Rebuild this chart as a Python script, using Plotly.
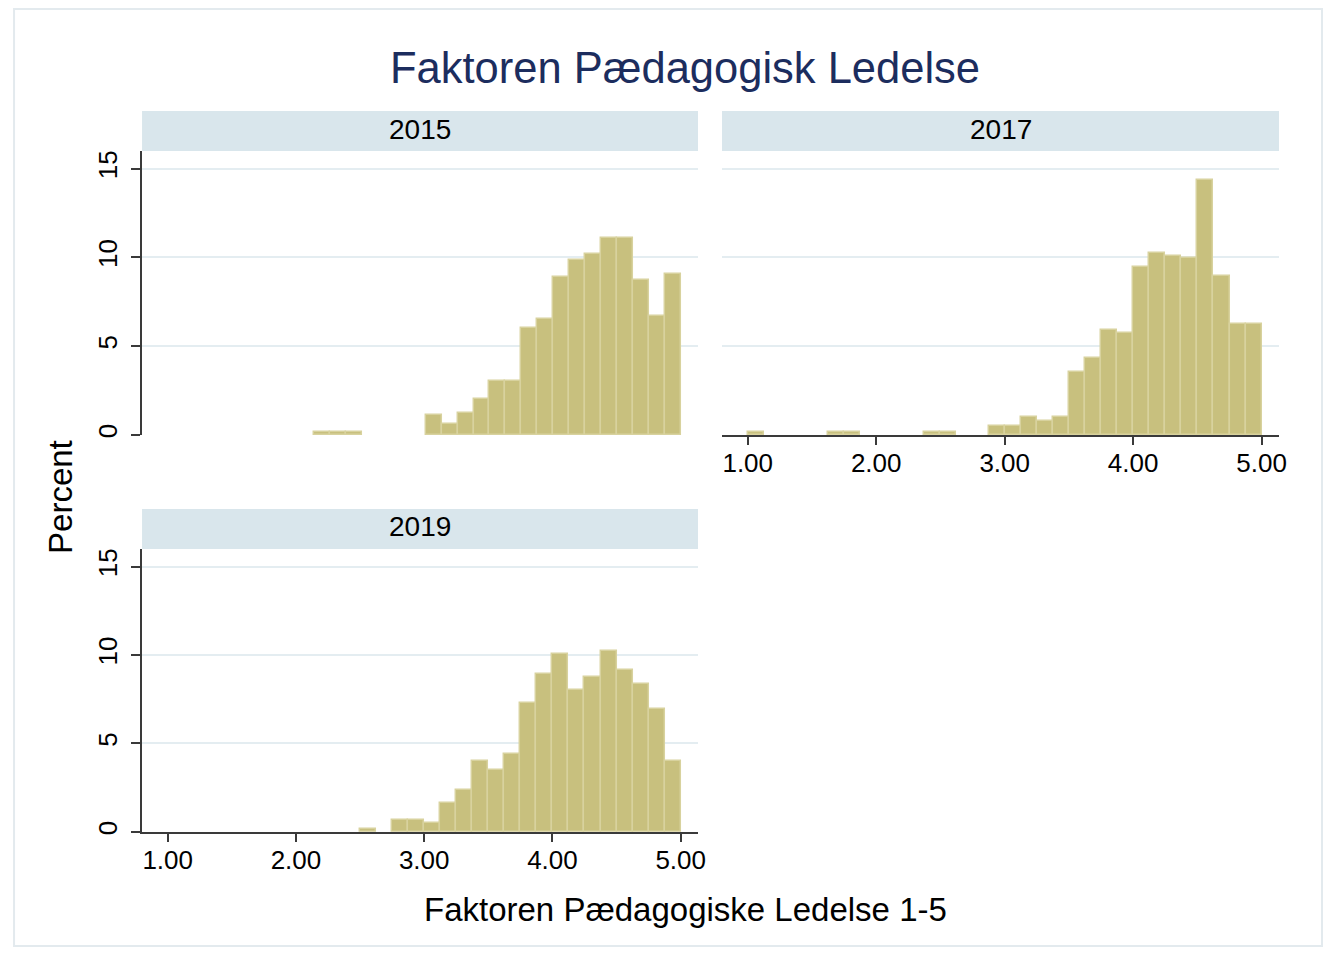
import plotly.graph_objects as go

# ---------------- data ----------------
YEARS = ["2015", "2017", "2019"]
BIN_START = [2.1429, 1.0, 1.0]
BIN_WIDTH = [0.1242, 0.125, 0.125]

PCT_2015 = [0.17, 0.17, 0.17, 0, 0, 0, 0,
            1.13, 0.64, 1.26, 2.05, 3.03, 3.03, 6.05, 6.54, 8.91,
            9.87, 10.17, 11.11, 11.11, 8.74, 6.71, 9.08]
PCT_2017 = [0.17, 0, 0, 0, 0, 0.17, 0.17, 0, 0, 0, 0, 0.17, 0.17, 0, 0,
            0.49, 0.49, 1.02, 0.79, 1.02, 3.55, 4.36, 5.90, 5.75,
            9.44, 10.28, 10.09, 9.96, 14.36, 8.93, 6.24, 6.24]
PCT_2019 = [0, 0, 0, 0, 0, 0, 0, 0, 0, 0, 0, 0, 0.17, 0,
            0.70, 0.70, 0.53, 1.64, 2.39, 4.03, 3.48, 4.39, 7.31, 8.95,
            10.06, 8.02, 8.78, 10.24, 9.15, 8.38, 6.93, 4.03]

X_TICKS = [1, 2, 3, 4, 5]
X_TICK_LABELS = ["1.00", "2.00", "3.00", "4.00", "5.00"]
Y_TICKS = [0, 5, 10, 15]
Y_TICK_LABELS = ["0", "5", "10", "15"]

TITLE = "Faktoren Pædagogisk Ledelse"
X_TITLE = "Faktoren Pædagogiske Ledelse 1-5"
Y_TITLE = "Percent"

# ---------------- layout helpers ----------------
OFF = 8                      # browser body margin
SC = 0.994                   # observed capture scale
SCY = 0.996
W = round(1332 / SC) - 2 * OFF
H = round(954 / SCY) - 2 * OFF
FONT = "Liberation Sans, Arial, Helvetica, sans-serif"
BAR_FILL = "#c8c07e"
BAR_LINE = "#d8d29e"
GRID = "#e4edf1"
STRIP = "#d9e6ec"
AXIS = "#3a3a3a"


def px_x(p):
    return (p / SC - OFF) / W


def px_y(p):
    return 1 - (p / SCY - OFF) / H


# panel pixel boxes in screenshot coords: (left, right, top, bottom)
PANELS = [(142, 698, 150, 434), (722, 1279, 150, 434), (142, 698, 548, 831)]
SHOW_X = [False, True, True]
SHOW_Y = [True, False, True]

fig = go.Figure()
series = [PCT_2015, PCT_2017, PCT_2019]

for i, (vals, start, width) in enumerate(zip(series, BIN_START, BIN_WIDTH)):
    xs, ys = [], []
    for k, v in enumerate(vals):
        if v > 0:
            xs.append(start + (k + 0.5) * width)
            ys.append(v)
    suffix = "" if i == 0 else str(i + 1)
    fig.add_trace(go.Bar(
        x=xs, y=ys, width=width,
        marker=dict(color=BAR_FILL, line=dict(color=BAR_LINE, width=1.5)),
        xaxis="x" + suffix, yaxis="y" + suffix, showlegend=False,
        hoverinfo="x+y",
    ))

layout = dict(
    width=W, height=H,
    margin=dict(l=0, r=0, t=0, b=0),
    paper_bgcolor="white", plot_bgcolor="white",
    bargap=0, font=dict(family=FONT, color="black"),
    showlegend=False,
)

for i, (l, r, t, b) in enumerate(PANELS):
    suffix = "" if i == 0 else str(i + 1)
    layout["xaxis" + suffix] = dict(
        domain=[px_x(l), px_x(r)], range=[0.80, 5.135],
        anchor="y" + suffix, showgrid=False, zeroline=False,
        showline=SHOW_X[i], linecolor=AXIS, linewidth=2,
        ticks="outside" if SHOW_X[i] else "", ticklen=8, tickwidth=1.5,
        tickcolor=AXIS, ticklabelstandoff=-4,
        tickvals=X_TICKS, ticktext=X_TICK_LABELS, showticklabels=SHOW_X[i],
        tickfont=dict(size=26, family=FONT, color="black"), fixedrange=True,
    )
    layout["yaxis" + suffix] = dict(
        domain=[px_y(b), px_y(t)], range=[0, 16],
        anchor="x" + suffix, showgrid=True, gridcolor=GRID, gridwidth=2,
        zeroline=False,
        showline=SHOW_Y[i], linecolor=AXIS, linewidth=2,
        ticks="outside" if SHOW_Y[i] else "", ticklen=9, tickwidth=1.5,
        tickcolor=AXIS,
        tickvals=Y_TICKS, ticktext=Y_TICK_LABELS, showticklabels=SHOW_Y[i],
        tickangle=-90, ticklabelstandoff=4,
        tickfont=dict(size=26, family=FONT, color="black"), fixedrange=True,
    )

fig.update_layout(**layout)

shapes = [dict(type="rect", xref="paper", yref="paper",
               x0=px_x(14), x1=px_x(1322), y0=max(px_y(950), 0.001), y1=px_y(8),
               line=dict(color="#e3eaee", width=2), fillcolor="rgba(0,0,0,0)",
               layer="below")]
annotations = []
for i, (l, r, t, b) in enumerate(PANELS):
    shapes.append(dict(type="rect", xref="paper", yref="paper",
                       x0=px_x(l), x1=px_x(r), y0=px_y(t), y1=px_y(t - 40),
                       line=dict(width=0), fillcolor=STRIP, layer="below"))
    annotations.append(dict(text=YEARS[i], xref="paper", yref="paper",
                            x=px_x((l + r) / 2), y=px_y(t - 22),
                            xanchor="center", yanchor="middle", showarrow=False,
                            font=dict(size=28, family=FONT, color="black")))

annotations.append(dict(text=TITLE, xref="paper", yref="paper",
                        x=px_x(685), y=px_y(67), xanchor="center", yanchor="middle",
                        showarrow=False,
                        font=dict(size=43.5, family=FONT, color="#1c2d5e")))
annotations.append(dict(text=X_TITLE, xref="paper", yref="paper",
                        x=px_x(685), y=px_y(909), xanchor="center", yanchor="middle",
                        showarrow=False,
                        font=dict(size=33, family=FONT, color="black")))
annotations.append(dict(text=Y_TITLE, xref="paper", yref="paper",
                        x=px_x(61), y=px_y(496), xanchor="center", yanchor="middle",
                        showarrow=False, textangle=-90,
                        font=dict(size=33, family=FONT, color="black")))

fig.update_layout(shapes=shapes, annotations=annotations)
fig.write_html("out.html")
